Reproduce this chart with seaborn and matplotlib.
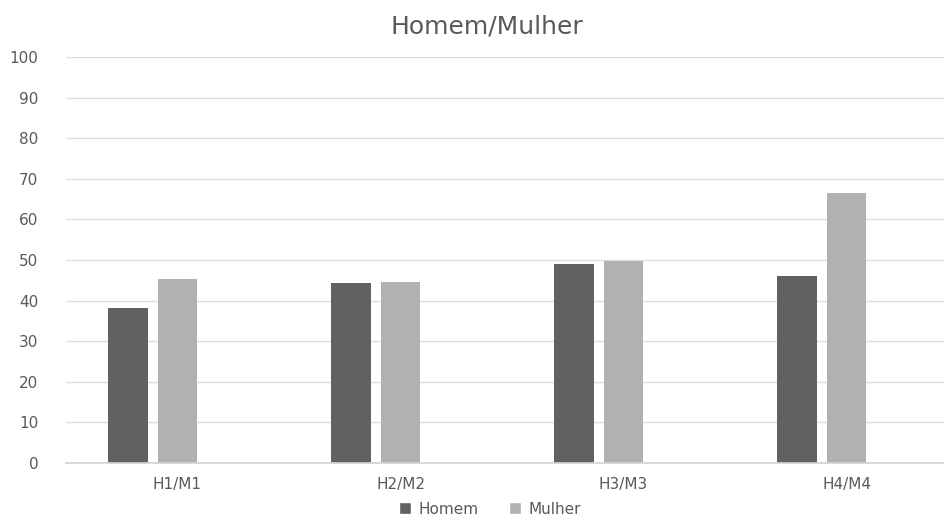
import pandas as pd
import matplotlib
matplotlib.use("Agg")
import matplotlib.pyplot as plt
from matplotlib.patches import Patch
import seaborn as sns

# data
categories = ["H1/M1", "H2/M2", "H3/M3", "H4/M4"]
homem = [38.2, 44.4, 48.9, 46.1]
mulher = [45.3, 44.6, 49.8, 66.6]
series = ["Homem", "Mulher"]
y_ticks = list(range(0, 101, 10))

colors = {"Homem": "#616161", "Mulher": "#b1b1b1", " ": "#ffffff"}
text_color = "#595959"

df = pd.DataFrame({
    "cat": categories * 2,
    "valor": homem + mulher,
    "serie": ["Homem"] * len(categories) + ["Mulher"] * len(categories),
})

sns.set_theme(style="white")
plt.rcParams["font.family"] = ["DejaVu Sans"]

fig = plt.figure(figsize=(9.44, 5.16), dpi=100)
# plot area runs past the right edge, the original picture is cropped there
ax = fig.add_axes([66 / 944, 53.3 / 516, 892 / 944, 405.4 / 516])

sns.barplot(data=df, x="cat", y="valor", hue="serie",
            hue_order=["Homem", "Mulher", " "], order=categories,
            palette=colors, width=0.666, gap=0.21, legend=False,
            edgecolor="none", ax=ax)

ax.set_ylim(0, 100)
ax.set_yticks(y_ticks)
ax.set_xlim(-0.5, len(categories) - 0.5)
ax.yaxis.grid(True, color="#dedede", linewidth=1)
ax.set_axisbelow(True)
for s in ["top", "right", "left"]:
    ax.spines[s].set_visible(False)
ax.spines["bottom"].set_color("#d4d4d4")
ax.set_xlabel("")
ax.set_ylabel("")
ax.tick_params(axis="y", length=0, pad=20, labelsize=11, labelcolor=text_color)
ax.tick_params(axis="x", length=0, pad=10, labelsize=11, labelcolor=text_color)

fig.text(487 / 944, 1 - 27 / 516, "Homem/Mulher", ha="center", va="center",
         fontsize=18, color=text_color)

handles = [Patch(facecolor=colors[s], label=s) for s in series]
fig.legend(handles=handles, loc="center", bbox_to_anchor=(490 / 944, 1 - 509 / 516),
           ncol=2, frameon=False, fontsize=11, labelcolor=text_color,
           handlelength=0.8, handleheight=0.8, handletextpad=0.5, columnspacing=2.0)

fig.savefig("out.png", dpi=100)
